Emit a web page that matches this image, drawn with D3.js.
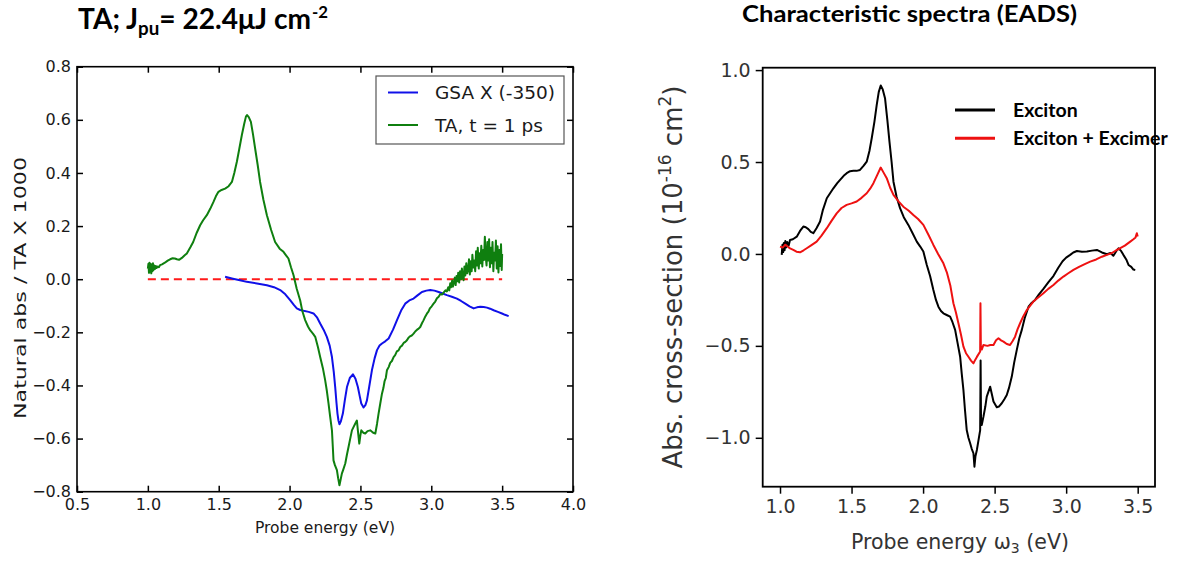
<!DOCTYPE html>
<html><head><meta charset="utf-8">
<script src="https://cdn.jsdelivr.net/npm/d3@7"></script>
<style>body{margin:0;background:#fff}svg{display:block}</style>
</head><body>
<svg id="fig" width="1195" height="561"></svg>
<script>
// ---- Left panel: transient absorption vs. ground-state absorption ----
const leftXTicks = [0.5, 1.0, 1.5, 2.0, 2.5, 3.0, 3.5, 4.0];
const leftYTicks = [-0.8, -0.6, -0.4, -0.2, 0.0, 0.2, 0.4, 0.6, 0.8];
const leftSeriesNames = ["GSA X (-350)", "TA, t = 1 ps"];
const zeroLineRange = [1.0, 3.5];

// Ground-state absorption (scaled by -350): [energy eV, value]
const gsaSpectrum = [
  [1.545,0.009],[1.60,0.002],[1.65,-0.004],[1.698,-0.010],[1.77,-0.016],[1.84,-0.023],[1.89,-0.030],
  [1.934,-0.041],[1.97,-0.057],[2.004,-0.079],[2.03,-0.097],[2.051,-0.110],[2.075,-0.116],[2.099,-0.119],
  [2.135,-0.123],[2.169,-0.129],[2.195,-0.145],[2.216,-0.167],[2.24,-0.190],[2.263,-0.217],[2.283,-0.250],
  [2.299,-0.293],[2.312,-0.350],[2.322,-0.406],[2.331,-0.465],[2.338,-0.506],[2.345,-0.532],[2.352,-0.546],
  [2.362,-0.535],[2.376,-0.506],[2.39,-0.455],[2.405,-0.406],[2.425,-0.372],[2.447,-0.358],[2.465,-0.375],
  [2.482,-0.406],[2.495,-0.440],[2.506,-0.468],[2.522,-0.483],[2.535,-0.474],[2.546,-0.456],[2.562,-0.405],
  [2.581,-0.343],[2.60,-0.298],[2.617,-0.267],[2.635,-0.250],[2.652,-0.242],[2.675,-0.234],[2.699,-0.223],
  [2.73,-0.190],[2.758,-0.154],[2.787,-0.118],[2.816,-0.092],[2.845,-0.080],[2.875,-0.073],[2.905,-0.060],
  [2.934,-0.048],[2.965,-0.043],[2.993,-0.041],[3.022,-0.043],[3.052,-0.048],[3.08,-0.054],[3.11,-0.060],
  [3.145,-0.066],[3.181,-0.073],[3.21,-0.082],[3.24,-0.092],[3.27,-0.102],[3.299,-0.110],[3.322,-0.106],
  [3.346,-0.104],[3.37,-0.105],[3.393,-0.107],[3.415,-0.111],[3.44,-0.117],[3.47,-0.123],[3.499,-0.129],
  [3.52,-0.134],[3.546,-0.139]
];

// Transient absorption at t = 1 ps: [energy eV, value]
const taSpectrum = [
  [1.000,0.040],[1.004,0.058],[1.008,0.024],[1.012,0.062],[1.016,0.028],[1.020,0.057],[1.024,0.022],
  [1.028,0.055],[1.032,0.030],[1.036,0.060],[1.040,0.034],[1.045,0.052],[1.050,0.038],[1.056,0.050],
  [1.062,0.042],[1.070,0.048],[1.078,0.045],[1.086,0.053],[1.10,0.056],[1.12,0.062],[1.14,0.070],
  [1.157,0.075],[1.175,0.079],[1.19,0.078],[1.205,0.075],[1.22,0.073],[1.24,0.080],[1.26,0.090],
  [1.275,0.097],[1.30,0.120],[1.32,0.140],[1.345,0.175],[1.369,0.203],[1.39,0.222],[1.416,0.241],
  [1.44,0.265],[1.463,0.291],[1.48,0.312],[1.498,0.329],[1.52,0.336],[1.545,0.341],[1.57,0.350],
  [1.593,0.366],[1.61,0.400],[1.628,0.442],[1.645,0.490],[1.663,0.542],[1.68,0.585],[1.692,0.612],
  [1.700,0.618],[1.712,0.610],[1.727,0.592],[1.742,0.545],[1.757,0.492],[1.775,0.430],[1.792,0.366],
  [1.815,0.300],[1.84,0.241],[1.87,0.185],[1.898,0.140],[1.93,0.115],[1.957,0.103],[1.975,0.090],
  [1.992,0.078],[2.01,0.045],[2.028,0.015],[2.05,-0.035],[2.075,-0.080],[2.09,-0.120],[2.11,-0.154],
  [2.13,-0.178],[2.145,-0.192],[2.165,-0.205],[2.181,-0.217],[2.20,-0.255],[2.216,-0.293],[2.235,-0.335],
  [2.251,-0.380],[2.263,-0.420],[2.275,-0.468],[2.287,-0.520],[2.299,-0.569],[2.305,-0.630],[2.31,-0.682],
  [2.32,-0.700],[2.334,-0.719],[2.343,-0.750],[2.352,-0.776],[2.36,-0.755],[2.369,-0.732],[2.38,-0.715],
  [2.393,-0.694],[2.405,-0.660],[2.416,-0.632],[2.428,-0.600],[2.44,-0.569],[2.452,-0.556],[2.463,-0.544],
  [2.475,-0.532],[2.483,-0.575],[2.492,-0.619],[2.499,-0.590],[2.506,-0.569],[2.52,-0.578],[2.534,-0.581],
  [2.55,-0.572],[2.569,-0.569],[2.59,-0.578],[2.605,-0.581],[2.617,-0.545],[2.628,-0.506],[2.64,-0.468],
  [2.652,-0.431],[2.662,-0.410],[2.67,-0.385],[2.679,-0.372],[2.687,-0.343],[2.70,-0.330],[2.71,-0.315],
  [2.722,-0.308],[2.734,-0.293],[2.745,-0.286],[2.757,-0.272],[2.769,-0.268],[2.781,-0.255],[2.793,-0.250],
  [2.805,-0.240],[2.817,-0.236],[2.828,-0.230],[2.84,-0.220],[2.85,-0.215],[2.862,-0.212],[2.875,-0.205],
  [2.888,-0.196],[2.90,-0.190],[2.911,-0.186],[2.922,-0.180],[2.935,-0.165],[2.945,-0.155],[2.958,-0.140],
  [2.970,-0.129],[2.98,-0.122],[2.99,-0.110],[3.003,-0.102],[3.016,-0.092],[3.028,-0.084],[3.04,-0.072],
  [3.052,-0.066],[3.064,-0.056],[3.075,-0.058],[3.088,-0.050],[3.10,-0.042],[3.11,-0.046],[3.12,-0.030],
  [3.127,-0.042],[3.134,-0.015],[3.14,-0.030],[3.147,-0.005],[3.153,-0.028],[3.16,-0.010],[3.166,0.006],
  [3.172,-0.022],[3.178,0.012],[3.185,-0.008],[3.19,0.024],[3.197,-0.012],[3.203,0.030],[3.21,0.000],
  [3.216,0.040],[3.222,0.008],[3.228,-0.004],[3.234,0.048],[3.24,0.014],[3.247,0.060],[3.253,0.022],
  [3.26,0.035],[3.266,0.075],[3.272,0.018],[3.278,0.068],[3.285,0.030],[3.29,0.092],[3.297,0.044],
  [3.303,0.070],[3.31,0.030],[3.316,0.105],[3.322,0.052],[3.328,0.118],[3.335,0.040],[3.341,0.098],
  [3.347,0.060],[3.353,0.126],[3.36,0.048],[3.366,0.110],[3.372,0.072],[3.378,0.160],[3.384,0.085],
  [3.39,0.052],[3.396,0.140],[3.402,0.070],[3.408,0.150],[3.414,0.045],[3.42,0.118],[3.426,0.060],
  [3.432,0.140],[3.438,0.030],[3.444,0.100],[3.45,0.070],[3.456,0.146],[3.462,0.040],[3.468,0.124],
  [3.474,0.025],[3.48,0.110],[3.486,0.050],[3.492,0.132],[3.497,0.035],[3.50,0.095]
];

// ---- Right panel: evolution-associated difference spectra ----
const rightXTicks = [1.0, 1.5, 2.0, 2.5, 3.0, 3.5];
const rightYTicks = [-1.0, -0.5, 0.0, 0.5, 1.0];
const rightSeriesNames = ["Exciton", "Exciton + Excimer"];

// Exciton EADS: [energy eV, cross-section 1e-16 cm^2]
const excitonSpectrum = [
  [1.012,-0.005],[1.017,0.050],[1.022,0.010],[1.027,0.060],[1.032,0.020],[1.037,0.070],[1.042,0.035],
  [1.05,0.065],[1.06,0.045],[1.07,0.076],[1.09,0.080],[1.117,0.094],[1.14,0.125],[1.163,0.149],
  [1.18,0.145],[1.198,0.135],[1.215,0.120],[1.233,0.113],[1.255,0.140],[1.28,0.176],[1.30,0.240],
  [1.327,0.303],[1.35,0.330],[1.373,0.357],[1.40,0.385],[1.42,0.403],[1.445,0.425],[1.466,0.439],
  [1.49,0.450],[1.513,0.452],[1.535,0.452],[1.559,0.457],[1.585,0.480],[1.606,0.502],[1.625,0.560],
  [1.641,0.629],[1.66,0.720],[1.676,0.811],[1.69,0.880],[1.704,0.916],[1.718,0.895],[1.734,0.847],
  [1.75,0.730],[1.765,0.611],[1.78,0.500],[1.793,0.393],[1.815,0.310],[1.839,0.249],[1.865,0.200],
  [1.897,0.158],[1.925,0.115],[1.956,0.067],[1.98,0.040],[2.002,0.013],[2.026,-0.060],[2.049,-0.120],
  [2.072,-0.196],[2.09,-0.250],[2.107,-0.287],[2.125,-0.310],[2.142,-0.323],[2.165,-0.332],[2.189,-0.341],
  [2.205,-0.370],[2.224,-0.413],[2.24,-0.480],[2.259,-0.559],[2.27,-0.650],[2.282,-0.740],[2.293,-0.850],
  [2.305,-0.958],[2.317,-1.000],[2.329,-1.030],[2.34,-1.060],[2.352,-1.084],[2.359,-1.157],[2.366,-1.100],
  [2.376,-1.066],[2.388,-1.010],[2.399,-0.958],[2.402,-0.580],[2.405,-0.900],[2.41,-0.930],[2.422,-0.885],
  [2.435,-0.830],[2.445,-0.776],[2.469,-0.722],[2.48,-0.760],[2.492,-0.803],[2.515,-0.834],[2.53,-0.830],
  [2.55,-0.812],[2.568,-0.790],[2.585,-0.767],[2.60,-0.730],[2.62,-0.667],[2.637,-0.590],[2.655,-0.522],
  [2.672,-0.460],[2.69,-0.413],[2.71,-0.350],[2.737,-0.287],[2.76,-0.265],[2.783,-0.250],[2.81,-0.220],
  [2.841,-0.190],[2.875,-0.155],[2.911,-0.120],[2.945,-0.075],[2.975,-0.040],[3.0,-0.020],[3.028,-0.005],
  [3.05,0.008],[3.075,0.016],[3.11,0.012],[3.145,0.013],[3.18,0.018],[3.215,0.022],[3.25,0.008],
  [3.285,-0.002],[3.31,0.005],[3.33,-0.010],[3.35,0.015],[3.366,0.031],[3.385,0.015],[3.40,-0.005],
  [3.42,-0.030],[3.436,-0.060],[3.455,-0.070],[3.47,-0.085],[3.483,-0.087]
];

// Exciton + Excimer EADS: [energy eV, cross-section 1e-16 cm^2]
const excimerSpectrum = [
  [1.0,0.040],[1.02,0.035],[1.035,0.050],[1.047,0.045],[1.07,0.030],[1.093,0.022],[1.115,0.012],
  [1.14,0.009],[1.165,0.020],[1.187,0.031],[1.22,0.048],[1.256,0.067],[1.29,0.100],[1.327,0.140],
  [1.36,0.180],[1.396,0.221],[1.43,0.250],[1.466,0.267],[1.50,0.275],[1.536,0.285],[1.57,0.305],
  [1.606,0.330],[1.63,0.355],[1.653,0.385],[1.68,0.430],[1.704,0.470],[1.722,0.445],[1.746,0.412],
  [1.77,0.360],[1.793,0.321],[1.83,0.285],[1.862,0.257],[1.90,0.235],[1.932,0.212],[1.965,0.190],
  [2.002,0.158],[2.04,0.100],[2.072,0.049],[2.105,0.000],[2.142,-0.051],[2.166,-0.100],[2.19,-0.170],
  [2.212,-0.268],[2.23,-0.320],[2.247,-0.377],[2.265,-0.440],[2.282,-0.504],[2.30,-0.540],[2.317,-0.559],
  [2.335,-0.580],[2.352,-0.595],[2.365,-0.575],[2.376,-0.560],[2.399,-0.531],[2.401,-0.268],[2.404,-0.520],
  [2.41,-0.520],[2.422,-0.495],[2.45,-0.500],[2.47,-0.495],[2.492,-0.495],[2.51,-0.470],[2.527,-0.459],
  [2.545,-0.470],[2.562,-0.477],[2.585,-0.490],[2.608,-0.495],[2.625,-0.475],[2.643,-0.450],[2.66,-0.410],
  [2.678,-0.377],[2.70,-0.340],[2.725,-0.305],[2.75,-0.280],[2.771,-0.259],[2.80,-0.240],[2.841,-0.214],
  [2.875,-0.190],[2.911,-0.169],[2.945,-0.145],[2.981,-0.123],[3.015,-0.105],[3.051,-0.087],[3.09,-0.070],
  [3.13,-0.055],[3.168,-0.042],[3.21,-0.030],[3.25,-0.015],[3.285,-0.005],[3.32,0.005],[3.35,0.020],
  [3.378,0.031],[3.41,0.045],[3.448,0.067],[3.47,0.080],[3.485,0.090],[3.494,0.113],[3.50,0.095]
];

const svg = d3.select("#fig");
const fmt1 = d3.format(".1f");
const SANS = "'DejaVu Sans', sans-serif";
const TITLE = "Lato, 'Open Sans', sans-serif";

// ================= Left panel =================
{
  const box = {x0: 77, x1: 573, y0: 66.7, y1: 491.7};
  const x = d3.scaleLinear().domain([0.5, 4.0]).range([box.x0, box.x1]);
  const y = d3.scaleLinear().domain([-0.8, 0.8]).range([box.y1, box.y0]);
  const g = svg.append("g");

  // zero reference
  g.append("line")
    .attr("x1", x(zeroLineRange[0])).attr("x2", x(zeroLineRange[1]))
    .attr("y1", y(0)).attr("y2", y(0))
    .attr("stroke", "#ff1a1a").attr("stroke-width", 2).attr("stroke-dasharray", "8,5");

  const line = d3.line().x(d => x(d[0])).y(d => y(d[1]));
  g.append("path").datum(gsaSpectrum).attr("d", line)
    .attr("fill", "none").attr("stroke", "#1010e8").attr("stroke-width", 2).attr("stroke-linejoin", "round");
  g.append("path").datum(taSpectrum).attr("d", line)
    .attr("fill", "none").attr("stroke", "#0f7f0f").attr("stroke-width", 2).attr("stroke-linejoin", "round");

  // axes with inward ticks on all four sides
  const styleAxis = sel => {
    sel.select(".domain").remove();
    sel.selectAll(".tick line").attr("stroke", "#000").attr("stroke-width", 1.5);
    sel.selectAll("text").attr("fill", "#1a1a1a").attr("font-family", SANS).attr("font-size", 16);
  };
  g.append("g").attr("transform", `translate(0,${box.y1})`)
    .call(d3.axisBottom(x).tickValues(leftXTicks).tickFormat(fmt1).tickSizeInner(-6).tickSizeOuter(0).tickPadding(7))
    .call(styleAxis);
  g.append("g").attr("transform", `translate(0,${box.y0})`)
    .call(d3.axisTop(x).tickValues(leftXTicks).tickFormat("").tickSizeInner(-6).tickSizeOuter(0))
    .call(styleAxis);
  g.append("g").attr("transform", `translate(${box.x0},0)`)
    .call(d3.axisLeft(y).tickValues(leftYTicks).tickFormat(fmt1).tickSizeInner(-6).tickSizeOuter(0).tickPadding(6))
    .call(styleAxis);
  g.append("g").attr("transform", `translate(${box.x1},0)`)
    .call(d3.axisRight(y).tickValues(leftYTicks).tickFormat("").tickSizeInner(-6).tickSizeOuter(0))
    .call(styleAxis);

  g.append("rect").attr("x", box.x0).attr("y", box.y0)
    .attr("width", box.x1 - box.x0).attr("height", box.y1 - box.y0)
    .attr("fill", "none").attr("stroke", "#000").attr("stroke-width", 1.6);

  // axis labels
  g.append("text").attr("x", (box.x0 + box.x1) / 2).attr("y", 533)
    .attr("text-anchor", "middle").attr("font-family", SANS).attr("font-size", 15.5).attr("fill", "#1a1a1a")
    .text("Probe energy (eV)");
  g.append("text").attr("transform", `translate(26,288) rotate(-90)`)
    .attr("text-anchor", "middle").attr("font-family", SANS).attr("font-size", 16.5).attr("fill", "#1a1a1a")
    .attr("textLength", 262).attr("lengthAdjust", "spacingAndGlyphs")
    .text("Natural abs / TA X 1000");

  // legend
  const lg = g.append("g");
  lg.append("rect").attr("x", 376).attr("y", 76).attr("width", 188).attr("height", 68)
    .attr("fill", "#fff").attr("stroke", "#555").attr("stroke-width", 1.2);
  const legColors = ["#1010e8", "#0f7f0f"];
  leftSeriesNames.forEach((name, i) => {
    const yy = 92.5 + i * 32.5;
    lg.append("line").attr("x1", 388).attr("x2", 418).attr("y1", yy).attr("y2", yy)
      .attr("stroke", legColors[i]).attr("stroke-width", 2);
    lg.append("text").attr("x", 435).attr("y", yy + 6.5)
      .attr("font-family", SANS).attr("font-size", 18.5).attr("fill", "#1a1a1a").text(name);
  });

  // panel title
  const t = g.append("text").attr("x", 78).attr("y", 29).attr("font-family", TITLE)
    .attr("font-weight", 700).attr("font-size", 28.5).attr("fill", "#000")
    .attr("textLength", 250).attr("lengthAdjust", "spacingAndGlyphs");
  t.append("tspan").text("TA; J");
  t.append("tspan").attr("font-size", 19).attr("dy", 6).text("pu");
  t.append("tspan").attr("dy", -6).text("= 22.4μJ cm");
  t.append("tspan").attr("font-size", 17).attr("dy", -11).attr("dx", 1).text("-2");
}

// ================= Right panel =================
{
  const box = {x0: 762.7, x1: 1155, y0: 67.7, y1: 486.7};
  const x = d3.scaleLinear().domain([0.879, 3.621]).range([box.x0, box.x1]);
  const y = d3.scaleLinear().domain([-1.266, 1.013]).range([box.y1, box.y0]);
  const g = svg.append("g");

  const line = d3.line().x(d => x(d[0])).y(d => y(d[1]));
  g.append("path").datum(excitonSpectrum).attr("d", line)
    .attr("fill", "none").attr("stroke", "#000").attr("stroke-width", 2).attr("stroke-linejoin", "round");
  g.append("path").datum(excimerSpectrum).attr("d", line)
    .attr("fill", "none").attr("stroke", "#ee1111").attr("stroke-width", 2).attr("stroke-linejoin", "round");

  const styleAxis = sel => {
    sel.select(".domain").remove();
    sel.selectAll(".tick line").attr("stroke", "#000").attr("stroke-width", 1.5);
    sel.selectAll("text").attr("fill", "#333").attr("font-family", SANS).attr("font-size", 19);
  };
  g.append("g").attr("transform", `translate(0,${box.y1})`)
    .call(d3.axisBottom(x).tickValues(rightXTicks).tickFormat(fmt1).tickSizeInner(7).tickSizeOuter(0).tickPadding(6))
    .call(styleAxis);
  g.append("g").attr("transform", `translate(${box.x0},0)`)
    .call(d3.axisLeft(y).tickValues(rightYTicks).tickFormat(fmt1).tickSizeInner(7).tickSizeOuter(0).tickPadding(5))
    .call(styleAxis);

  g.append("rect").attr("x", box.x0).attr("y", box.y0)
    .attr("width", box.x1 - box.x0).attr("height", box.y1 - box.y0)
    .attr("fill", "none").attr("stroke", "#000").attr("stroke-width", 1.8);

  g.append("text").attr("x", 960).attr("y", 549)
    .attr("text-anchor", "middle").attr("font-family", SANS).attr("font-size", 20.5).attr("fill", "#333")
    .call(s => {
      s.append("tspan").text("Probe energy ω");
      s.append("tspan").attr("font-size", 14).attr("dy", 4).text("3");
      s.append("tspan").attr("dy", -4).text(" (eV)");
    });
  g.append("text").attr("transform", `translate(682,277) rotate(-90)`)
    .attr("text-anchor", "middle").attr("font-family", SANS).attr("font-size", 26).attr("fill", "#333")
    .call(s => {
      s.append("tspan").text("Abs. cross-section (10");
      s.append("tspan").attr("font-size", 17).attr("dy", -11).text("-16");
      s.append("tspan").attr("dy", 11).text(" cm");
      s.append("tspan").attr("font-size", 17).attr("dy", -11).text("2");
      s.append("tspan").attr("dy", 11).text(")");
    });

  // legend (no frame)
  const legColors = ["#000", "#ee1111"];
  rightSeriesNames.forEach((name, i) => {
    const yy = 110 + i * 28.3;
    g.append("line").attr("x1", 955).attr("x2", 995).attr("y1", yy).attr("y2", yy)
      .attr("stroke", legColors[i]).attr("stroke-width", 3);
    g.append("text").attr("x", 1013).attr("y", yy + 6.5)
      .attr("font-family", TITLE).attr("font-weight", 700).attr("font-size", 19.5).attr("fill", "#000").text(name);
  });

  // panel title
  g.append("text").attr("x", 742).attr("y", 22).attr("font-family", TITLE)
    .attr("font-weight", 700).attr("font-size", 22).attr("fill", "#000")
    .attr("textLength", 335).attr("lengthAdjust", "spacingAndGlyphs")
    .text("Characteristic spectra (EADS)");
}
</script>
</body></html>
